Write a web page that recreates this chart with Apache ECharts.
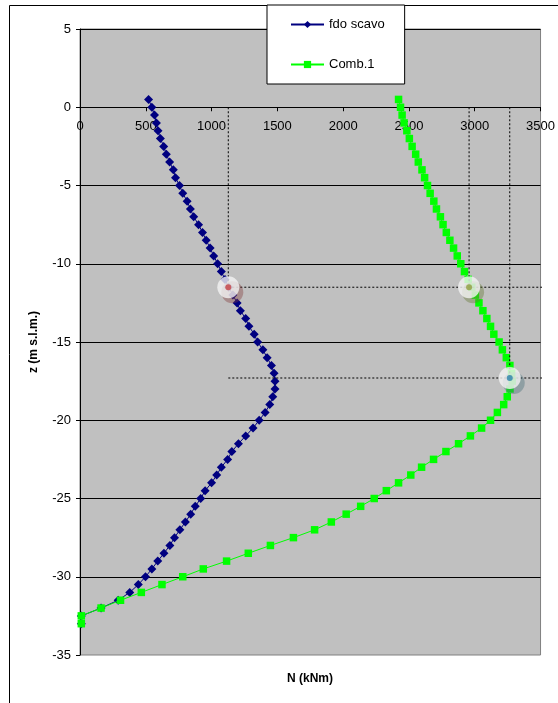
<!DOCTYPE html>
<html>
<head>
<meta charset="utf-8">
<script src="https://cdn.jsdelivr.net/npm/echarts@6/dist/echarts.min.js"></script>
<style>
html,body{margin:0;padding:0;background:#fff;}
#chart{width:558px;height:703px;}
</style>
</head>
<body>
<div id="chart"></div>
<script>
const zVals = [0.5, 0, -0.5, -1, -1.5, -2, -2.5, -3, -3.5, -4, -4.5, -5, -5.5, -6, -6.5, -7, -7.5, -8, -8.5, -9, -9.5, -10,
  -10.5, -11, -11.5, -12, -12.5, -13, -13.5, -14, -14.5, -15, -15.5, -16, -16.5, -17, -17.5, -18, -18.5, -19, -19.5, -20,
  -20.5, -21, -21.5, -22, -22.5, -23, -23.5, -24, -24.5, -25, -25.5, -26, -26.5, -27, -27.5, -28, -28.5, -29, -29.5, -30,
  -30.5, -31, -31.5, -32, -32.5, -33];

const fdoScavo = [521, 546, 566, 581, 593, 611, 636, 656, 681, 709, 726, 756, 781, 814, 839, 864, 901, 931, 959, 989, 1016, 1046,
  1074, 1102, 1130, 1162, 1194, 1219, 1259, 1284, 1324, 1350, 1390, 1422, 1455, 1475, 1482, 1482, 1465, 1442, 1407, 1362,
  1315, 1259, 1204, 1154, 1122, 1074, 1039, 1000, 951, 917, 876, 841, 801, 759, 718, 683, 638, 591, 546, 498,
  443, 378, 290, 160, 10, 10];

const comb1 = [2421, 2436, 2448, 2463, 2484, 2503, 2524, 2551, 2571, 2599, 2619, 2641, 2661, 2689, 2709, 2739, 2759, 2784, 2811, 2839, 2867, 2894,
  2922, 2950, 2977, 3005, 3032, 3062, 3092, 3120, 3145, 3185, 3210, 3240, 3267, 3280, 3285, 3268, 3247, 3220, 3172, 3120,
  3052, 2967, 2877, 2781, 2687, 2596, 2514, 2421, 2328, 2236, 2133, 2023, 1910, 1783, 1622, 1447, 1279, 1114, 937, 781,
  623, 466, 308, 160, 10, 10];

// highlighted points (annotation circles)
const markN = [1127, 2957, 3266];
const markZ = [-11.5, -11.5, -17.3];
const markDot = ['#c84444', '#8e9e3e', '#2a82aa'];
const markShadow = ['rgba(130,60,60,0.5)', 'rgba(100,120,50,0.5)', 'rgba(70,110,120,0.5)'];
const guideEndN = 3620;

const Z_MIN = -35, Z_MAX = 5;
const GRID_TOP = 29, GRID_BOTTOM = 48, H = 703;
const gridH = H - GRID_TOP - GRID_BOTTOM;
// x axis crosses the vertical axis at z = 0 (as in the original spreadsheet chart)
const xAxisOffset = -gridH * (0 - Z_MIN) / (Z_MAX - Z_MIN);

const chart = echarts.init(document.getElementById('chart'));
const FONT = 'Arial, "Liberation Sans", sans-serif';

const guideSeries = [];
const dashStyle = { color: '#000', width: 1, type: [2, 2] };
markN.forEach((n, i) => {
  guideSeries.push({
    type: 'line', data: [[n, 0], [n, markZ[i]]], symbol: 'none', silent: true, clip: false,
    lineStyle: dashStyle, z: 5, animation: false
  });
});
[markZ[0], markZ[2]].forEach(z => {
  guideSeries.push({
    type: 'line', data: [[markN[0], z], [guideEndN, z]], symbol: 'none', silent: true, clip: false,
    lineStyle: dashStyle, z: 5, animation: false
  });
});

const markPts = markN.map((n, i) => [n, markZ[i]]);

chart.setOption({
  animation: false,
  backgroundColor: '#fff',
  grid: { left: 80, right: 12, top: GRID_TOP, bottom: GRID_BOTTOM, show: true, backgroundColor: '#C0C0C0', borderColor: '#808080', borderWidth: 1 },
  legend: {
    data: ['fdo scavo', 'Comb.1'], orient: 'vertical', left: 267, top: 5,
    itemWidth: 33, itemHeight: 9, itemGap: 27, padding: [13, 20, 13, 23],
    backgroundColor: '#fff', borderColor: '#000', borderWidth: 1, borderRadius: 0,
    textStyle: { fontSize: 13, color: '#000', fontFamily: FONT }
  },
  xAxis: {
    type: 'value', min: 0, max: 3500, interval: 500, position: 'bottom', offset: xAxisOffset,
    axisLine: { show: true, onZero: false, lineStyle: { color: '#000', width: 1 } },
    axisTick: { show: true, length: 4, lineStyle: { color: '#000' } },
    axisLabel: { color: '#000', fontSize: 13, fontFamily: FONT, margin: 13, formatter: v => String(v) },
    splitLine: { show: false }
  },
  yAxis: {
    type: 'value', min: Z_MIN, max: Z_MAX, interval: 5,
    name: 'z (m s.l.m.)', nameLocation: 'middle', nameRotate: 90, nameGap: 40,
    nameTextStyle: { fontSize: 12, fontWeight: 'bold', color: '#000', fontFamily: FONT },
    axisLine: { show: true, onZero: false, lineStyle: { color: '#000', width: 1 } },
    axisTick: { show: true, length: 4, lineStyle: { color: '#000' } },
    axisLabel: { color: '#000', fontSize: 13, fontFamily: FONT, margin: 9, formatter: v => String(v) },
    splitLine: { show: true, showMinLine: false, lineStyle: { color: '#000', width: 1 } }
  },
  graphic: [
    { type: 'rect', shape: { x: 9.5, y: 5.5, width: 700, height: 800 }, style: { fill: 'none', stroke: '#000', lineWidth: 1 }, z: -10, silent: true },
    { type: 'text', left: 287, top: 673, style: { text: 'N (kNm)', fill: '#000', font: 'bold 12px ' + FONT }, silent: true }
  ],
  series: [
    {
      name: 'fdo scavo', type: 'line', data: zVals.map((z, i) => [fdoScavo[i], z]),
      symbol: 'diamond', symbolSize: 9, showAllSymbol: true,
      lineStyle: { color: '#000080', width: 1 }, itemStyle: { color: '#000080' }, z: 2
    },
    {
      name: 'Comb.1', type: 'line', data: zVals.map((z, i) => [comb1[i], z]),
      symbol: 'rect', symbolSize: 7.5, showAllSymbol: true,
      lineStyle: { color: '#00FF00', width: 1 }, itemStyle: { color: '#00FF00' }, z: 3
    },
    ...guideSeries,
    {
      type: 'scatter', data: markPts, symbol: 'circle', symbolSize: 22, symbolOffset: [4, 5], silent: true,
      itemStyle: { color: (p) => markShadow[p.dataIndex] }, z: 6
    },
    {
      type: 'scatter', data: markPts, symbol: 'circle', symbolSize: 22, silent: true,
      itemStyle: { color: '#f2f2f2' }, z: 7
    },
    {
      type: 'scatter', data: markPts, symbol: 'circle', symbolSize: 6, silent: true,
      itemStyle: { color: (p) => markDot[p.dataIndex] }, z: 8
    }
  ]
});
</script>
</body>
</html>
